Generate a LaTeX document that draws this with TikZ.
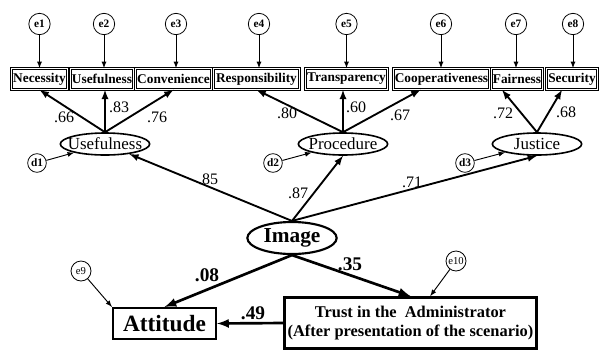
\documentclass[tikz,border=0pt]{standalone}
\usepackage{fontspec}
\setmainfont{Liberation Serif}
\usetikzlibrary{calc,shapes.geometric}
\tikzset{
	obsbox/.style={draw, double, line width=0.8pt, double distance=0.7pt, inner xsep=1pt, inner ysep=0pt, minimum height=15.5pt, font=\bfseries\fontsize{10}{11}\selectfont},
	errcirc/.style={draw, circle, line width=0.6pt, inner sep=0pt, minimum size=16pt, font=\bfseries\fontsize{8.5}{9}\selectfont},
	latent/.style={draw, ellipse, line width=1.2pt, inner xsep=-10pt, inner ysep=0pt, minimum width=67pt, minimum height=16.5pt, font=\fontsize{12.7}{13}\selectfont},
	outbox/.style={draw, rectangle, line width=1.8pt, inner sep=0pt, align=center, font=\bfseries},
	coef/.style={inner sep=0pt, font=\fontsize{12}{13}\selectfont},
	bigcoef/.style={inner sep=0pt, font=\bfseries\fontsize{14.5}{15}\selectfont},
	thinarr/.style={->, >=latex, line width=0.7pt},
	loadarr/.style={->, >=latex, line width=1.4pt},
	patharr/.style={->, >=latex, line width=2pt}
}
\begin{document}
\begin{tikzpicture}[x=0.75pt, y=-0.75pt]
		%%%%% START %%%%%
		\useasboundingbox (0, 0) rectangle (606, 354);
		
		% observed items
		\node[obsbox, minimum width=40pt] (nec) at (39.5, 79) {Necessity};
		\node[obsbox, minimum width=45.5pt] (usf) at (102, 79) {Usefulness};
		\node[obsbox, minimum width=53.5pt] (conv) at (173.5, 79) {Convenience};
		\node[obsbox, minimum width=64pt] (resp) at (256.5, 79) {Responsibility};
		\node[obsbox, minimum width=61pt] (trans) at (346.5, 79) {Transparency};
		\node[obsbox, minimum width=71.5pt] (coop) at (441.5, 79) {Cooperativeness};
		\node[obsbox, minimum width=36.5pt] (fair) at (517, 79) {Fairness};
		\node[obsbox, minimum width=38pt] (sec) at (572, 79) {Security};
		
		% item errors
		\node[errcirc] (e1) at (39.5, 24) {e1};
		\node[errcirc] (e2) at (104, 24) {e2};
		\node[errcirc] (e3) at (176, 24) {e3};
		\node[errcirc] (e4) at (259, 24) {e4};
		\node[errcirc] (e5) at (346.5, 24) {e5};
		\node[errcirc] (e6) at (441, 24) {e6};
		\node[errcirc] (e7) at (516, 24) {e7};
		\node[errcirc] (e8) at (573, 24) {e8};
		\draw[thinarr] (e1) -- (e1 |- nec.north);
		\draw[thinarr] (e2) -- (e2 |- usf.north);
		\draw[thinarr] (e3) -- (e3 |- conv.north);
		\draw[thinarr] (e4) -- (e4 |- resp.north);
		\draw[thinarr] (e5) -- (e5 |- trans.north);
		\draw[thinarr] (e6) -- (e6 |- coop.north);
		\draw[thinarr] (e7) -- (e7 |- fair.north);
		\draw[thinarr] (e8) -- (e8 |- sec.north);
		
		% first order factors
		\node[latent] (useful) at (105, 144) {Usefulness};
		\node[latent] (proc) at (343, 144) {Procedure};
		\node[latent] (just) at (537, 144) {Justice};
		
		\draw[loadarr] (useful.north) -- (nec.south);
		\draw[loadarr] (useful.north) -- (useful.north |- usf.south);
		\draw[loadarr] (useful.north) -- (conv.south);
		\draw[loadarr] (proc.north) -- (resp.south);
		\draw[loadarr] (proc.north) -- (proc.north |- trans.south);
		\draw[loadarr] (proc.north) -- ($(coop.south)+(-21, 0)$);
		\draw[loadarr] (just.north) -- ($(fair.south)+(-15, 0)$);
		\draw[loadarr] (just.north) -- ($(sec.south)+(-10, 0)$);
		
		\node[coef] (l1) at (64, 117) {.66};
		\node[coef] (l2) at (119, 107) {.83};
		\node[coef] (l3) at (157, 117) {.76};
		\node[coef] (l4) at (287, 113) {.80};
		\node[coef] (l5) at (356, 107) {.60};
		\node[coef] (l6) at (400, 115) {.67};
		\node[coef] (l7) at (503, 113) {.72};
		\node[coef] (l8) at (566, 112) {.68};
		
		% disturbances
		\node[errcirc, minimum size=14pt] (d1) at (37, 163) {d1};
		\node[errcirc, minimum size=14pt] (d2) at (273, 163) {d2};
		\node[errcirc, minimum size=14pt] (d3) at (465, 163) {d3};
		\draw[thinarr] (d1) -- (useful);
		\draw[thinarr] (d2) -- (proc);
		\draw[thinarr] (d3) -- (just);
		
		% second order factor
		\node[latent, line width=1.6pt, inner xsep=0pt, minimum height=24pt, font=\bfseries\fontsize{16}{17}\selectfont] (image) at (292, 238) {Image};
		\draw[loadarr] (image.north) -- (useful);
		\draw[loadarr] (image.north) -- (proc.south);
		\draw[loadarr] (image.north) -- (just.south);
		\node[coef] (l9) at (208, 179) {.85};
		\node[coef] (l10) at (298, 193) {.87};
		\node[coef] (l11) at (412, 182) {.71};
		
		% outcomes
		\node[outbox, minimum width=77pt, minimum height=23pt, font=\bfseries\fontsize{17.5}{18}\selectfont] (att) at (164.5, 323.5) {Attitude};
		\node[outbox, minimum width=189pt, minimum height=38.5pt, font=\bfseries\fontsize{12.3}{14}\selectfont] (trust) at (410.5, 323) {Trust in the \ Administrator\\(After presentation of the scenario)};
		\node[errcirc, font=\fontsize{8}{9}\selectfont, minimum size=15pt] (e9) at (81, 271) {e9};
		\node[errcirc, font=\fontsize{8}{9}\selectfont, minimum size=15pt] (e10) at (456, 261) {e10};
		
		\draw[patharr] (image.south) -- (att.north);
		\draw[patharr] (image.south) -- (trust.north);
		\draw[patharr] (trust.west) -- (att.east);
		\draw[thinarr] (e9) -- (att.north west);
		\draw[thinarr] (e10) -- (trust);
		
		\node[bigcoef] (l12) at (207, 275) {.08};
		\node[bigcoef] (l13) at (350, 264) {.35};
		\node[bigcoef] (l14) at (253, 313) {.49};
		
		%%%%% END %%%%%
	\end{tikzpicture}
\end{document}
